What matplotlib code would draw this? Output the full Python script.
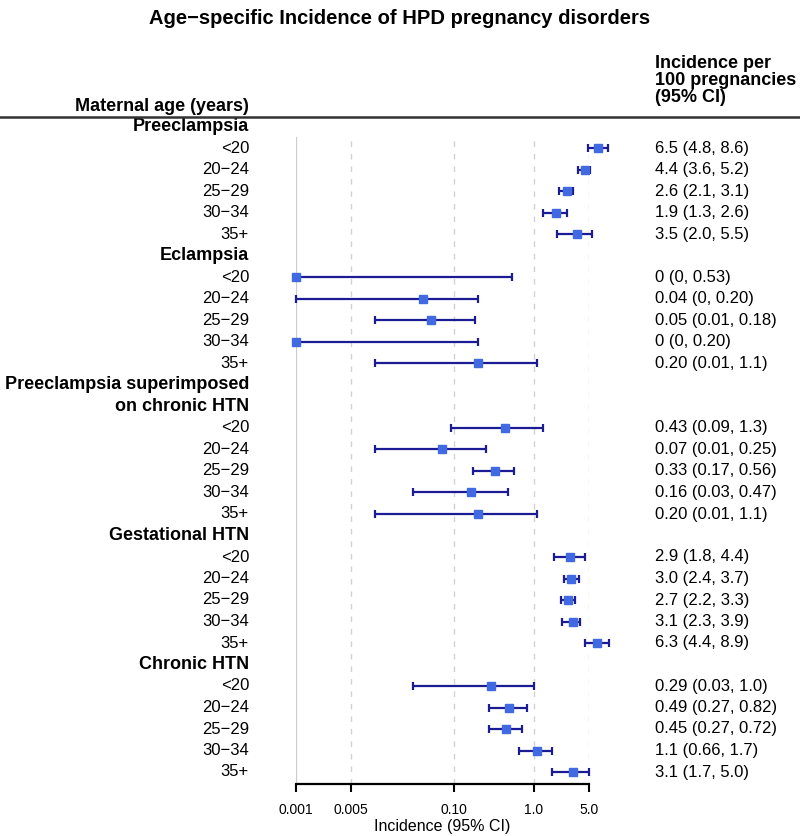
import numpy as np
import matplotlib
matplotlib.use("Agg")
import matplotlib.pyplot as plt
from matplotlib.lines import Line2D
from matplotlib.transforms import blended_transform_factory

plt.rcParams['font.family'] = ['Liberation Sans', 'DejaVu Sans']

# ---- data (incidence per 100 pregnancies, 95% CI) ----
groups = ["Preeclampsia", "Eclampsia", "Preeclampsia superimposed\non chronic HTN",
          "Gestational HTN", "Chronic HTN"]
ages = ["<20", "20\u221224", "25\u221229", "30\u221234", "35+"]

preeclampsia_est = [6.5, 4.4, 2.6, 1.9, 3.5]
preeclampsia_lo = [4.8, 3.6, 2.1, 1.3, 2.0]
preeclampsia_hi = [8.6, 5.2, 3.1, 2.6, 5.5]

eclampsia_est = [0, 0.04, 0.05, 0, 0.20]
eclampsia_lo = [0, 0, 0.01, 0, 0.01]
eclampsia_hi = [0.53, 0.20, 0.18, 0.20, 1.1]

superimposed_est = [0.43, 0.07, 0.33, 0.16, 0.20]
superimposed_lo = [0.09, 0.01, 0.17, 0.03, 0.01]
superimposed_hi = [1.3, 0.25, 0.56, 0.47, 1.1]

gestational_est = [2.9, 3.0, 2.7, 3.1, 6.3]
gestational_lo = [1.8, 2.4, 2.2, 2.3, 4.4]
gestational_hi = [4.4, 3.7, 3.3, 3.9, 8.9]

chronic_est = [0.29, 0.49, 0.45, 1.1, 3.1]
chronic_lo = [0.03, 0.27, 0.27, 0.66, 1.7]
chronic_hi = [1.0, 0.82, 0.72, 1.7, 5.0]

value_labels = [
    ["6.5 (4.8, 8.6)", "4.4 (3.6, 5.2)", "2.6 (2.1, 3.1)", "1.9 (1.3, 2.6)", "3.5 (2.0, 5.5)"],
    ["0 (0, 0.53)", "0.04 (0, 0.20)", "0.05 (0.01, 0.18)", "0 (0, 0.20)", "0.20 (0.01, 1.1)"],
    ["0.43 (0.09, 1.3)", "0.07 (0.01, 0.25)", "0.33 (0.17, 0.56)", "0.16 (0.03, 0.47)", "0.20 (0.01, 1.1)"],
    ["2.9 (1.8, 4.4)", "3.0 (2.4, 3.7)", "2.7 (2.2, 3.3)", "3.1 (2.3, 3.9)", "6.3 (4.4, 8.9)"],
    ["0.29 (0.03, 1.0)", "0.49 (0.27, 0.82)", "0.45 (0.27, 0.72)", "1.1 (0.66, 1.7)", "3.1 (1.7, 5.0)"],
]

estimates = [preeclampsia_est, eclampsia_est, superimposed_est, gestational_est, chronic_est]
lowers = [preeclampsia_lo, eclampsia_lo, superimposed_lo, gestational_lo, chronic_lo]
uppers = [preeclampsia_hi, eclampsia_hi, superimposed_hi, gestational_hi, chronic_hi]

xticks = [0.001, 0.005, 0.1, 1.0, 5.0]
xtick_labels = ["0.001", "0.005", "0.10", "1.0", "5.0"]
x_floor = 0.001  # zeros are drawn at the left edge of the log axis

W, H = 800, 836
fx = lambda px: px / W
fy = lambda py: 1 - py / H

fig = plt.figure(figsize=(W / 100, H / 100), dpi=100)
ax = fig.add_axes([fx(296), fy(784), (589 - 296) / W, (784 - 137) / H])

row0, row_h = 127, 21.5
ax.set_xscale('log')
ax.set_xlim(xticks[0], xticks[-1])
ax.set_ylim((784 - row0) / row_h, (137 - row0) / row_h)

line_col = '#1b1b94'
box_col = '#4169e1'

# grid
ax.axvline(xticks[0], color='#cccccc', lw=1.6, zorder=0)
for t in xticks[1:]:
    ax.axvline(t, color='#d2d2d2', lw=1.0, ls=(0, (4, 5)), zorder=0)

label_tr = blended_transform_factory(fig.transFigure, ax.transData)

row = 0
for g, name in enumerate(groups):
    for part in name.split("\n"):
        ax.text(fx(249), row, part, transform=label_tr, ha='right', va='center',
                fontsize=13, fontweight='bold')
        row += 1
    ys = np.arange(row, row + len(ages))
    est = np.maximum(estimates[g], x_floor)
    lo = np.maximum(lowers[g], x_floor)
    hi = np.maximum(uppers[g], x_floor)
    ax.hlines(ys, lo, hi, color=line_col, lw=1.6, clip_on=False, zorder=2)
    ax.plot(np.r_[lo, hi], np.r_[ys, ys], ls='none', marker='|', ms=5.5, mew=1.6,
            color=line_col, clip_on=False, zorder=2)
    ax.plot(est, ys, ls='none', marker='s', ms=5.4, color=box_col, mec=box_col,
            clip_on=False, zorder=3)
    for i, y in enumerate(ys):
        ax.text(fx(249), y, ages[i], transform=label_tr, ha='right', va='center',
                fontsize=12)
        ax.text(fx(655), y, value_labels[g][i], transform=label_tr, ha='left',
                va='center', fontsize=12)
    row += len(ages)

# axis styling
for s in ['top', 'right', 'left']:
    ax.spines[s].set_visible(False)
ax.spines['bottom'].set_linewidth(1.6)
ax.set_yticks([])
ax.set_xticks(xticks)
ax.set_xticklabels(xtick_labels)
ax.xaxis.set_minor_locator(matplotlib.ticker.NullLocator())
ax.tick_params(axis='x', length=6, width=1.5, pad=8, labelsize=10)
ax.set_xlabel("Incidence (95% CI)", fontsize=11.5, labelpad=1)

# headers
fig.text(0.5, fy(18), "Age\u2212specific Incidence of HPD pregnancy disorders",
         ha='center', va='center', fontsize=14.5, fontweight='bold')
fig.text(fx(249), fy(111), "Maternal age (years)", ha='right', va='baseline',
         fontsize=13, fontweight='bold')
for txt, base in zip(["Incidence per", "100 pregnancies", "(95% CI)"], [67.5, 85, 102]):
    fig.text(fx(655), fy(base), txt, ha='left', va='baseline', fontsize=13,
             fontweight='bold')
fig.add_artist(Line2D([0, 1], [fy(116.5), fy(116.5)], color='#333333', lw=1.8))

fig.savefig("out.png", dpi=100)
